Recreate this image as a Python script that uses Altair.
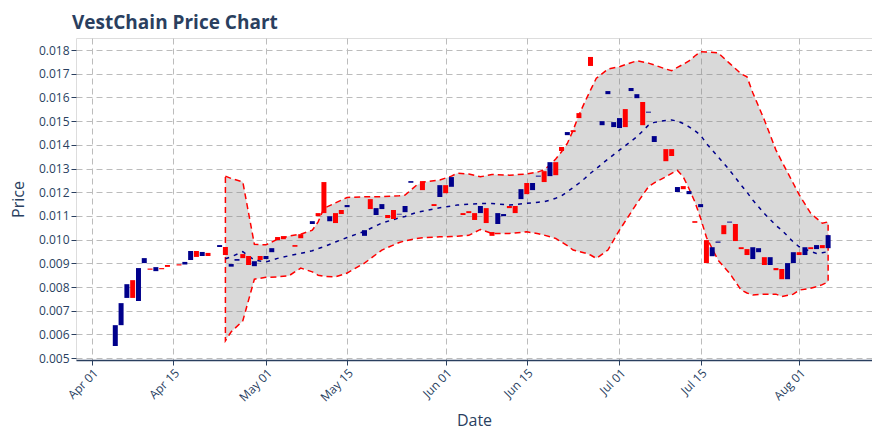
import altair as alt
import pandas as pd

# ---------------- candle data (open / close) ----------------
dates = ["04-05", "04-06", "04-07", "04-08", "04-09", "04-10", "04-11", "04-12", "04-13", "04-14",
         "04-16", "04-17", "04-18", "04-19", "04-20", "04-21", "04-23", "04-24", "04-25", "04-26",
         "04-27", "04-28", "04-29", "04-30", "05-01", "05-02", "05-03", "05-04", "05-06", "05-07",
         "05-09", "05-10", "05-11", "05-12", "05-13", "05-14", "05-15", "05-18", "05-19", "05-20",
         "05-21", "05-22", "05-23", "05-24", "05-25", "05-26", "05-28", "05-30", "05-31", "06-01",
         "06-02", "06-04", "06-05", "06-06", "06-07", "06-08", "06-09", "06-10", "06-11", "06-12",
         "06-13", "06-14", "06-15", "06-16", "06-17", "06-18", "06-19", "06-20", "06-21", "06-22",
         "06-23", "06-24", "06-26", "06-28", "06-29", "06-30", "07-01", "07-02", "07-03", "07-04",
         "07-05", "07-06", "07-07", "07-09", "07-10", "07-11", "07-12", "07-13", "07-14", "07-15",
         "07-16", "07-17", "07-18", "07-19", "07-20", "07-21", "07-22", "07-23", "07-24", "07-25",
         "07-26", "07-27", "07-28", "07-29", "07-30", "07-31", "08-01", "08-02", "08-03", "08-04",
         "08-05", "08-06"]
opens = [0.00551, 0.00639, 0.00754, 0.00829, 0.00741, 0.00901, 0.00878, 0.00867, 0.00880, 0.00893,
         0.00896, 0.00895, 0.00914, 0.00952, 0.00931, 0.00944, 0.00969, 0.00969, 0.00886, 0.00911,
         0.00939, 0.00931, 0.00888, 0.00931, 0.00918, 0.00947, 0.01011, 0.01015, 0.00977, 0.01023,
         0.01066, 0.01112, 0.01243, 0.01078, 0.01112, 0.01125, 0.01137, 0.01016, 0.01171, 0.01104,
         0.01129, 0.01104, 0.01125, 0.01106, 0.01116, 0.01240, 0.01247, 0.01150, 0.01180, 0.01230,
         0.01223, 0.01112, 0.01120, 0.01112, 0.01112, 0.01133, 0.01032, 0.01066, 0.01099, 0.01142,
         0.01142, 0.01171, 0.01239, 0.01209, 0.01266, 0.01289, 0.01268, 0.01327, 0.01391, 0.01441,
         0.01462, 0.01534, 0.01771, 0.01483, 0.01614, 0.01475, 0.01471, 0.01551, 0.01627, 0.01597,
         0.01581, 0.01536, 0.01412, 0.01382, 0.01382, 0.01201, 0.01226, 0.01192, 0.01078, 0.01137,
         0.00998, 0.00930, 0.00987, 0.01061, 0.01072, 0.01066, 0.00968, 0.00960, 0.00918, 0.00947,
         0.00926, 0.00893, 0.00880, 0.00876, 0.00833, 0.00901, 0.00947, 0.00935, 0.00968, 0.00960,
         0.00977, 0.00964]
closes = [0.00639, 0.00732, 0.00812, 0.00754, 0.00880, 0.00922, 0.00873, 0.00884, 0.00875, 0.00885,
          0.00891, 0.00906, 0.00952, 0.00927, 0.00948, 0.00931, 0.00977, 0.00935, 0.00897, 0.00918,
          0.00922, 0.00893, 0.00909, 0.00914, 0.00931, 0.00964, 0.00998, 0.01002, 0.00970, 0.01006,
          0.01078, 0.01099, 0.01112, 0.01099, 0.01070, 0.01108, 0.01146, 0.01040, 0.01129, 0.01133,
          0.01150, 0.01091, 0.01087, 0.01109, 0.01142, 0.01247, 0.01209, 0.01142, 0.01230, 0.01196,
          0.01264, 0.01104, 0.01112, 0.01083, 0.01142, 0.01070, 0.01016, 0.01112, 0.01108, 0.01133,
          0.01112, 0.01213, 0.01192, 0.01239, 0.01270, 0.01243, 0.01327, 0.01272, 0.01374, 0.01454,
          0.01454, 0.01513, 0.01733, 0.01500, 0.01627, 0.01496, 0.01513, 0.01475, 0.01640, 0.01614,
          0.01483, 0.01540, 0.01437, 0.01331, 0.01353, 0.01222, 0.01213, 0.01205, 0.01071, 0.01150,
          0.00901, 0.00968, 0.00992, 0.01023, 0.01076, 0.00994, 0.00960, 0.00935, 0.00968, 0.00964,
          0.00893, 0.00926, 0.00871, 0.00833, 0.00901, 0.00947, 0.00935, 0.00968, 0.00960, 0.00977,
          0.00964, 0.01019]

# ---------------- Bollinger band data ----------------
band_dates = ["04-24", "04-25", "04-27", "04-29", "05-01", "05-03", "05-05", "05-07", "05-09", "05-10",
              "05-11", "05-13", "05-15", "05-18", "05-21", "05-24", "05-25", "05-27", "05-28", "05-31",
              "06-02", "06-03", "06-05", "06-07", "06-09", "06-12", "06-15", "06-17", "06-18", "06-19",
              "06-20", "06-21", "06-22", "06-23", "06-24", "06-25", "06-26", "06-27", "06-29", "07-01",
              "07-04", "07-06", "07-07", "07-09", "07-10", "07-11", "07-12", "07-13", "07-14", "07-15",
              "07-16", "07-18", "07-20", "07-22", "07-23", "07-24", "07-26", "07-28", "07-29", "07-31",
              "08-01", "08-03", "08-04", "08-05", "08-06"]
upper = [0.01268, 0.01258, 0.01244, 0.00980, 0.00978, 0.01002, 0.01015, 0.01023, 0.01040, 0.01075,
         0.01132, 0.01155, 0.01178, 0.01181, 0.01181, 0.01185, 0.01188, 0.01230, 0.01242, 0.01252,
         0.01268, 0.01280, 0.01277, 0.01265, 0.01275, 0.01272, 0.01277, 0.01286, 0.01295, 0.01315,
         0.01340, 0.01371, 0.01406, 0.01462, 0.01526, 0.01580, 0.01631, 0.01681, 0.01720, 0.01730,
         0.01755, 0.01745, 0.01737, 0.01720, 0.01713, 0.01727, 0.01740, 0.01754, 0.01775, 0.01793,
         0.01792, 0.01789, 0.01744, 0.01700, 0.01687, 0.01620, 0.01505, 0.01378, 0.01330, 0.01237,
         0.01190, 0.01111, 0.01090, 0.01069, 0.01075]
middle = [0.00919, 0.00928, 0.00949, 0.00914, 0.00906, 0.00921, 0.00932, 0.00942, 0.00953, 0.00962,
          0.00970, 0.00990, 0.01009, 0.01035, 0.01070, 0.01092, 0.01098, 0.01115, 0.01120, 0.01135,
          0.01142, 0.01146, 0.01150, 0.01152, 0.01153, 0.01146, 0.01153, 0.01158, 0.01160, 0.01167,
          0.01175, 0.01185, 0.01202, 0.01220, 0.01238, 0.01258, 0.01280, 0.01300, 0.01340, 0.01378,
          0.01434, 0.01483, 0.01495, 0.01503, 0.01505, 0.01500, 0.01490, 0.01476, 0.01460, 0.01440,
          0.01406, 0.01350, 0.01293, 0.01230, 0.01200, 0.01167, 0.01110, 0.01060, 0.01040, 0.00990,
          0.00970, 0.00950, 0.00942, 0.00945, 0.00949]
lower = [0.00573, 0.00611, 0.00657, 0.00833, 0.00841, 0.00843, 0.00848, 0.00880, 0.00864, 0.00850,
         0.00845, 0.00843, 0.00859, 0.00901, 0.00956, 0.00988, 0.00995, 0.01005, 0.01008, 0.01012,
         0.01013, 0.01014, 0.01018, 0.01043, 0.01026, 0.01026, 0.01033, 0.01025, 0.01019, 0.01012,
         0.01005, 0.00990, 0.00975, 0.00956, 0.00950, 0.00944, 0.00935, 0.00921, 0.00956, 0.01040,
         0.01153, 0.01223, 0.01240, 0.01265, 0.01280, 0.01292, 0.01265, 0.01215, 0.01160, 0.01090,
         0.01010, 0.00914, 0.00858, 0.00787, 0.00775, 0.00766, 0.00770, 0.00770, 0.00760, 0.00770,
         0.00787, 0.00795, 0.00801, 0.00810, 0.00822]

x_ticks = ["04-01", "04-15", "05-01", "05-15", "06-01", "06-15", "07-01", "07-15", "08-01"]
y_ticks = [0.005, 0.006, 0.007, 0.008, 0.009, 0.010, 0.011, 0.012, 0.013,
           0.014, 0.015, 0.016, 0.017, 0.018]

YEAR = 2023


def ts(md):
    return f"{YEAR}-{md}T00:00:00"


def dt(md, hours=0):
    m, d = md.split("-")
    return alt.DateTime(year=YEAR, month=int(m), date=int(d), hours=hours)


candles = pd.DataFrame({
    "date": [ts(d) for d in dates],
    "open": opens,
    "close": closes,
})
candles["dir"] = ["up" if c >= o else "down" for o, c in zip(opens, closes)]

band = pd.DataFrame({
    "date": [ts(d) for d in band_dates],
    "upper": upper,
    "middle": middle,
    "lower": lower,
})

outline_rows = []
k = 0
for d, u in zip(band_dates, upper):
    outline_rows.append({"date": ts(d), "v": u, "ord": k}); k += 1
for d, lo in zip(reversed(band_dates), reversed(lower)):
    outline_rows.append({"date": ts(d), "v": lo, "ord": k}); k += 1
outline_rows.append({"date": ts(band_dates[0]), "v": upper[0], "ord": k})
outline = pd.DataFrame(outline_rows)

FONT = "Open Sans"
TXT = "#2a3f5f"

x_scale = alt.Scale(domain=[dt("03-30", 2), dt("08-12", 17)])
y_scale = alt.Scale(domain=[0.00492, 0.01851], nice=False, zero=False)

x_axis = alt.Axis(values=[dt(t) for t in x_ticks], format="%b %d", labelAngle=-45,
                  title="Date", titleFontSize=16, titleFontWeight="normal", titlePadding=9,
                  labelFontSize=12, labelColor=TXT, titleColor=TXT, labelFont=FONT, titleFont=FONT,
                  grid=True, gridDash=[6, 4], gridColor="#bcbcbc", gridWidth=1,
                  domain=True, domainColor="#2a3f5f", domainWidth=1.5,
                  ticks=True, tickSize=5, tickColor="#2a3f5f", labelPadding=2)
y_axis = alt.Axis(values=y_ticks, format=".3f", title="Price", titleFontSize=16,
                  titleFontWeight="normal", titlePadding=12, labelFontSize=12,
                  labelColor=TXT, titleColor=TXT, labelFont=FONT, titleFont=FONT,
                  grid=True, gridDash=[6, 4], gridColor="#bcbcbc", gridWidth=1,
                  domain=False, ticks=True, tickSize=5, tickColor="#2a3f5f", labelPadding=2)

area = alt.Chart(band).mark_area(color="#808080", opacity=0.3).encode(
    x=alt.X("date:T", scale=x_scale, axis=x_axis),
    y=alt.Y("upper:Q", scale=y_scale, axis=y_axis),
    y2="lower:Q",
)

edge = alt.Chart(outline).mark_line(color="#ff0000", strokeDash=[6, 4], strokeWidth=1.5).encode(
    x=alt.X("date:T", scale=x_scale, axis=x_axis),
    y=alt.Y("v:Q", scale=y_scale, axis=y_axis),
    order="ord:Q",
)

mid = alt.Chart(band).mark_line(color="#00008b", strokeDash=[4, 5], strokeWidth=1.5).encode(
    x=alt.X("date:T", scale=x_scale, axis=x_axis),
    y=alt.Y("middle:Q", scale=y_scale, axis=y_axis),
)

bars = alt.Chart(candles).mark_bar(size=5).encode(
    x=alt.X("date:T", scale=x_scale, axis=x_axis),
    y=alt.Y("open:Q", scale=y_scale, axis=y_axis),
    y2="close:Q",
    color=alt.Color("dir:N", scale=alt.Scale(domain=["up", "down"], range=["#00008b", "#ff0000"]),
                    legend=None),
)

chart = alt.layer(area, edge, mid, bars).properties(
    width=796, height=322,
    title=alt.Title("VestChain Price Chart", anchor="start", frame="group", fontSize=19,
                    fontWeight="bold", color=TXT, font=FONT, offset=5, dx=-4),
    autosize=alt.AutoSizeParams(type="none"),
    padding={"left": 68, "top": 30, "right": 0, "bottom": 72},
).configure_view(fill="#eceff1", stroke=None).configure(background="white")

chart.save("out.html", embed_options={"renderer": "svg", "actions": False})
